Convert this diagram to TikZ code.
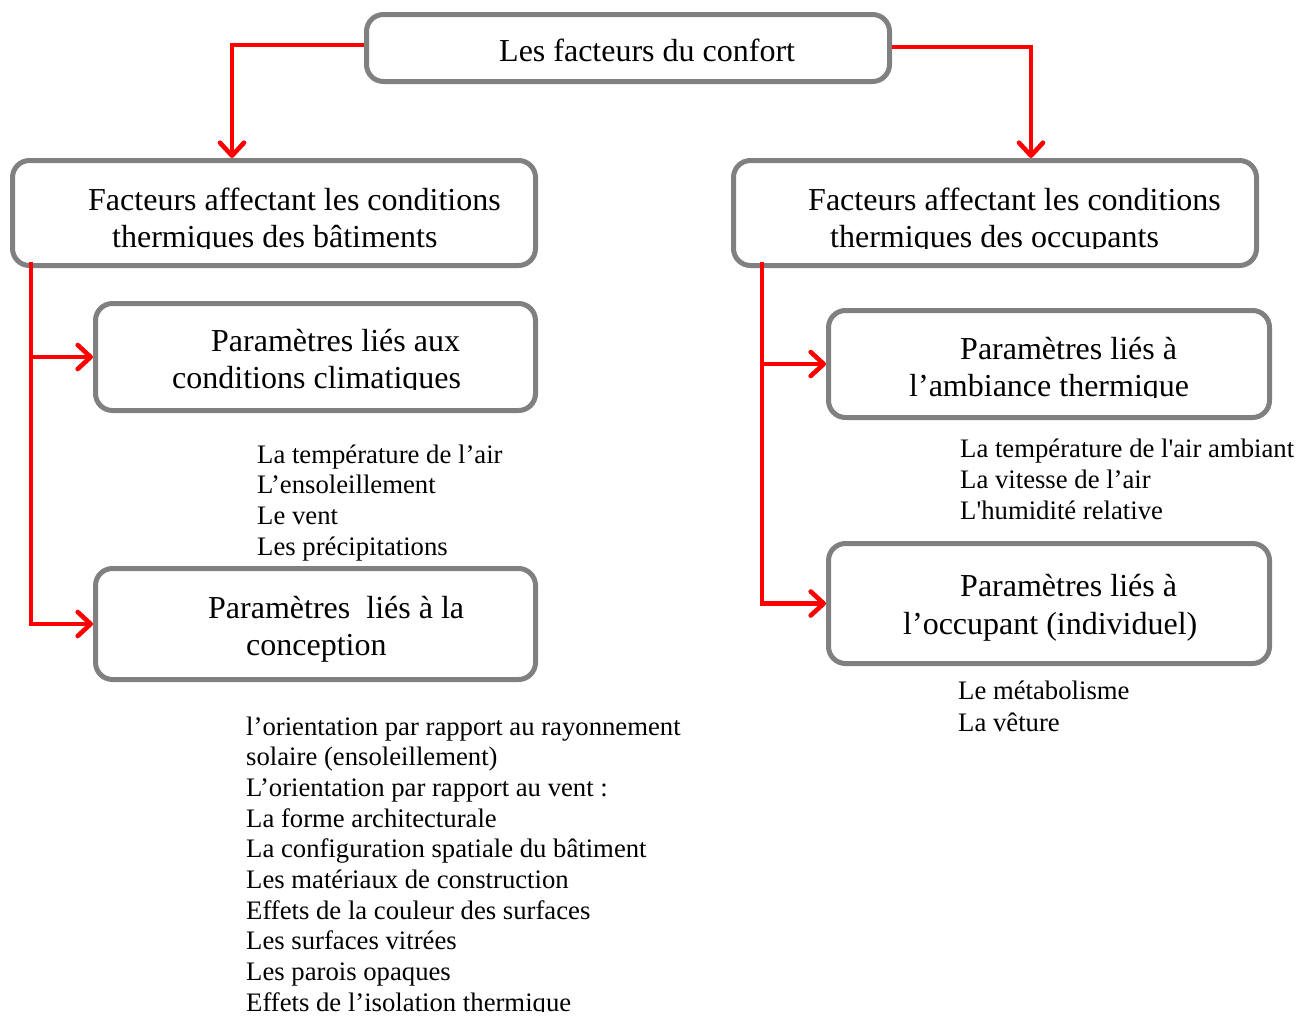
\documentclass[tikz,border=0pt]{standalone}
\usepackage{fontspec}
\setmainfont{Liberation Serif}
\usetikzlibrary{arrows.meta}
\font\rawsq="Liberation Serif" at 26.7pt
\newcommand{\sq}{{\rawsq'}}
\tikzset{
  box/.style={draw=gray, line width=5pt, rounded corners=17pt, inner sep=0pt},
  btxt/.style={inner sep=0pt, anchor=base west, font=\fontsize{32}{37}\selectfont},
  ltxt/.style={inner sep=0pt, anchor=base west, font=\fontsize{26.7}{30.7}\selectfont},
  conn/.style={draw=red, line width=4.6pt},
  arr/.style={conn, -{Straight Barb[length=13pt,width=24pt,round]}}
}
\begin{document}
\begin{tikzpicture}[x=1pt,y=-1pt]
\useasboundingbox (0,0) rectangle (1306,1017);
% boxes
\node[box, minimum width=523pt, minimum height=67pt] (top) at (628,48) {};
\node[box, minimum width=523pt, minimum height=105pt] (lmain) at (274,213) {};
\node[box, minimum width=523pt, minimum height=105pt] (rmain) at (995,213) {};
\node[box, minimum width=440pt, minimum height=107pt] (lsub1) at (315.5,357) {};
\node[box, minimum width=440pt, minimum height=111pt] (lsub2) at (315.5,624) {};
\node[box, minimum width=441pt, minimum height=107pt] (rsub1) at (1049,364) {};
\node[box, minimum width=441pt, minimum height=120pt] (rsub2) at (1049,603.5) {};
% box texts
\node[btxt] (ttop) at (499,61) {Les facteurs du confort};
\node[btxt] (tlm1) at (88,210) {Facteurs affectant les conditions};
\begin{scope}
  \clip (0,0) rectangle (1306,248);
  \node[btxt] (tlm2) at (112,247) {thermiques des bâtiments};
  \node[btxt] (trm2) at (830,247) {thermiques des occupants};
\end{scope}
\node[btxt] (trm1) at (808,210) {Facteurs affectant les conditions};
\node[btxt] (tls11) at (211,351) {Paramètres liés aux};
\begin{scope}
  \clip (0,0) rectangle (1306,389.5);
  \node[btxt] (tls12) at (172,388) {conditions climatiques};
\end{scope}
\node[btxt] (tls21) at (208,618) {Paramètres\ \ liés à la};
\node[btxt] (tls22) at (246,655) {conception};
\node[btxt] (trs11) at (960,359) {Paramètres liés à};
\begin{scope}
  \clip (0,0) rectangle (1306,397.5);
  \node[btxt] (trs12) at (909,396) {l’ambiance thermique};
\end{scope}
\node[btxt] (trs21) at (960,596) {Paramètres liés à};
\node[btxt] (trs22) at (903,634) {l’occupant (individuel)};
% lists
\foreach \t [count=\i] in {{La température de l’air},{L’ensoleillement},{Le vent},{Les précipitations}}
  \node[ltxt] (la\i) at (257,{463+30.7*(\i-1)}) {\t};
\node[ltxt] (ra1) at (960,457) {La température de l\sq air ambiant};
\node[ltxt] (ra2) at (960,488) {La vitesse de l’air};
\node[ltxt] (ra3) at (960,519.5) {L\sq humidité relative};
\node[ltxt] (rb1) at (958,699) {Le métabolisme};
\node[ltxt] (rb2) at (958,731) {La vêture};
\begin{scope}
  \clip (0,0) rectangle (1306,1011);
  \foreach \t [count=\i] in {{l’orientation par rapport au rayonnement},{solaire (ensoleillement)},{L’orientation par rapport au vent :},{La forme architecturale},{La configuration spatiale du bâtiment},{Les matériaux de construction},{Effets de la couleur des surfaces},{Les surfaces vitrées},{Les parois opaques},{Effets de l’isolation thermique}}
    \node[ltxt] (lb\i) at (246,{735+30.7*(\i-1)}) {\t};
\end{scope}
% connectors
\coordinate (la) at (232,0);
\coordinate (ra) at (1031,0);
\coordinate (lt) at (31,262);
\coordinate (rt) at (762,262);
\draw[arr] ([yshift=3pt]top.west) -| (la |- lmain.north);
\draw[arr] ([yshift=1pt]top.east) -| (ra |- rmain.north);
\draw[arr] (lt) |- (lsub2.west);
\draw[arr] (lt |- lsub1.west) -- (lsub1.west);
\draw[arr] (rt) |- (rsub2.west);
\draw[arr] (rt |- rsub1.west) -- (rsub1.west);
\end{tikzpicture}
\end{document}
